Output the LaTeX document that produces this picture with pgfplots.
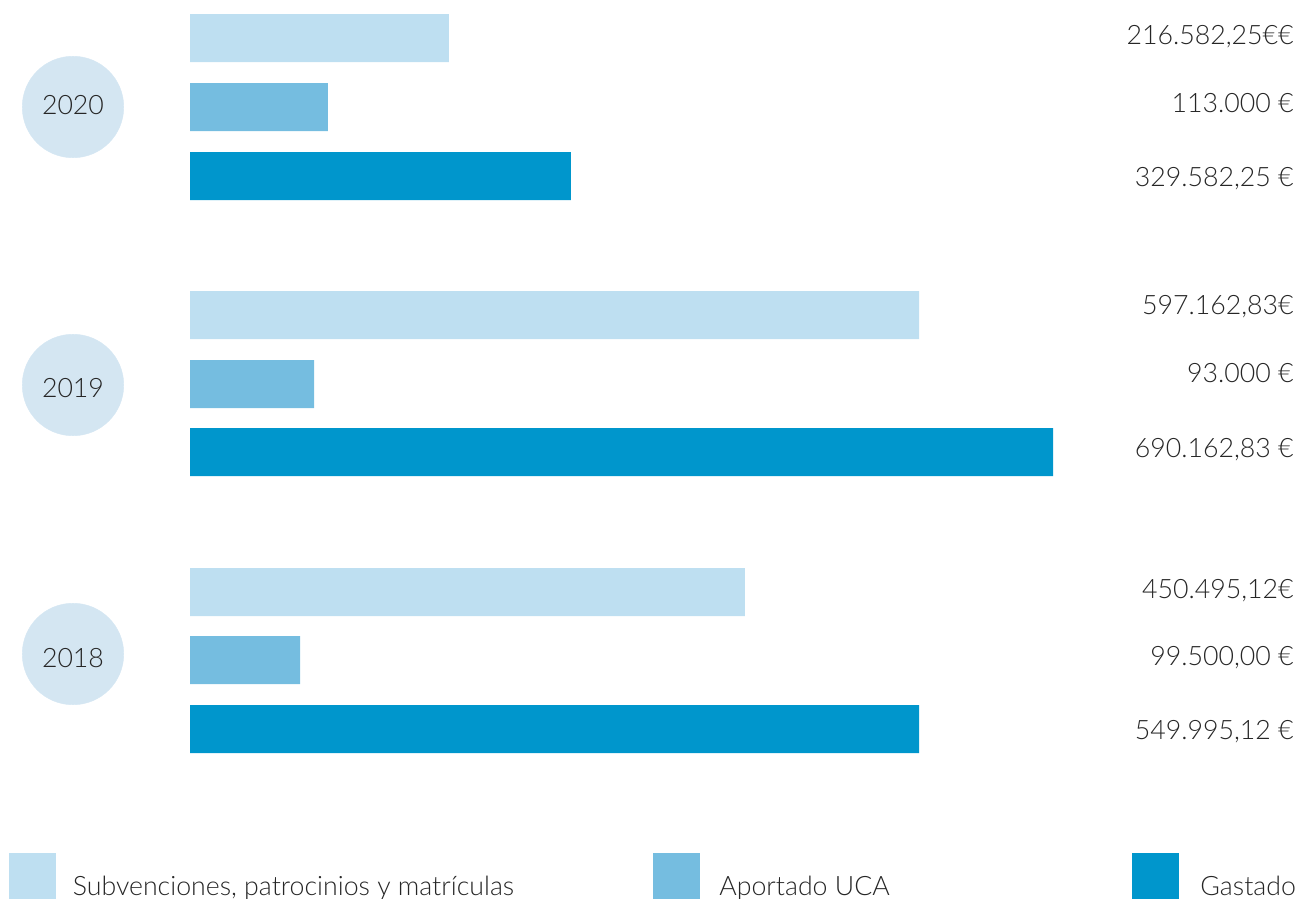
\documentclass[border=0pt]{standalone}
\usepackage{pgfplots}
\pgfplotsset{compat=1.18}
\usepackage{fontspec}
\setmainfont{Lato Light}

\definecolor{cSub}{HTML}{BEDFF1}
\definecolor{cUca}{HTML}{75BDE0}
\definecolor{cGas}{HTML}{0096CC}
\definecolor{cCirc}{HTML}{D4E6F2}
\definecolor{cTxt}{HTML}{262626}

\newcommand{\lbl}{\fontsize{7.6}{9.2}\selectfont}

% 1 px of the reference = 819 EUR on x, 1 unit on y (rows counted downwards)
\pgfplotsset{
  txt/.style={draw=none, mark=none, nodes near coords, point meta=explicit symbolic,
    every node near coord/.style={anchor=#1, inner sep=0pt, font=\lbl, text=cTxt}},
  hbar/.style={xbar, bar width=48, bar shift=0pt, draw=none, fill=#1},
  dot/.style={only marks, color=#1, mark options={fill=#1, draw=#1, line width=0.1pt}},
}

\begin{document}
\begin{tikzpicture}
\begin{axis}[
  width=13.08cm, height=8.99cm, scale only axis,
  hide axis, clip=false,
  xmin=-155610, xmax=915642,
  ymin=-899, ymax=0,
]
% bars (EUR, lengths as drawn)
\addplot[hbar=cSub] coordinates {(212100,-38) (597200,-315) (454500,-592)};
\addplot[hbar=cUca] coordinates {(113000,-107) (101600,-384) (90100,-660)};
\addplot[hbar=cGas] coordinates {(312000,-176) (706800,-452) (597100,-729)};

% year badges
\addplot[dot=cCirc, mark=*, mark size=14.45pt]
  coordinates {(-95823,-107) (-95823,-385) (-95823,-654)};
\addplot[txt=base] coordinates {
  (-95823,-114) [2020]
  (-95823,-397) [2019]
  (-95823,-667) [2018]
};

% amounts on the right
\addplot[txt=base east] coordinates {
  (904400,-44) [216.582,25€€]
  (904400,-112) [113.000 €]
  (904400,-187) [329.582,25 €]
  (904400,-314) [597.162,83€]
  (904400,-382) [93.000 €]
  (904400,-457) [690.162,83 €]
  (904400,-598) [450.495,12€]
  (904400,-665) [99.500,00 €]
  (904400,-739) [549.995,12 €]
};

% legend
\addplot[dot=cSub, mark=square*, mark size=6.5pt] coordinates {(-129402,-876)};
\addplot[dot=cUca, mark=square*, mark size=6.5pt] coordinates {(398034,-876)};
\addplot[dot=cGas, mark=square*, mark size=6.5pt] coordinates {(790335,-876)};
\addplot[txt=base west] coordinates {
  (-96500,-895) [Subvenciones, patrocinios y matrículas]
  (433000,-895) [Aportado UCA]
  (827000,-895) [Gastado]
};
\end{axis}
\pgfresetboundingbox
\useasboundingbox (current axis.south west) rectangle (current axis.north east);
\end{tikzpicture}
\end{document}
